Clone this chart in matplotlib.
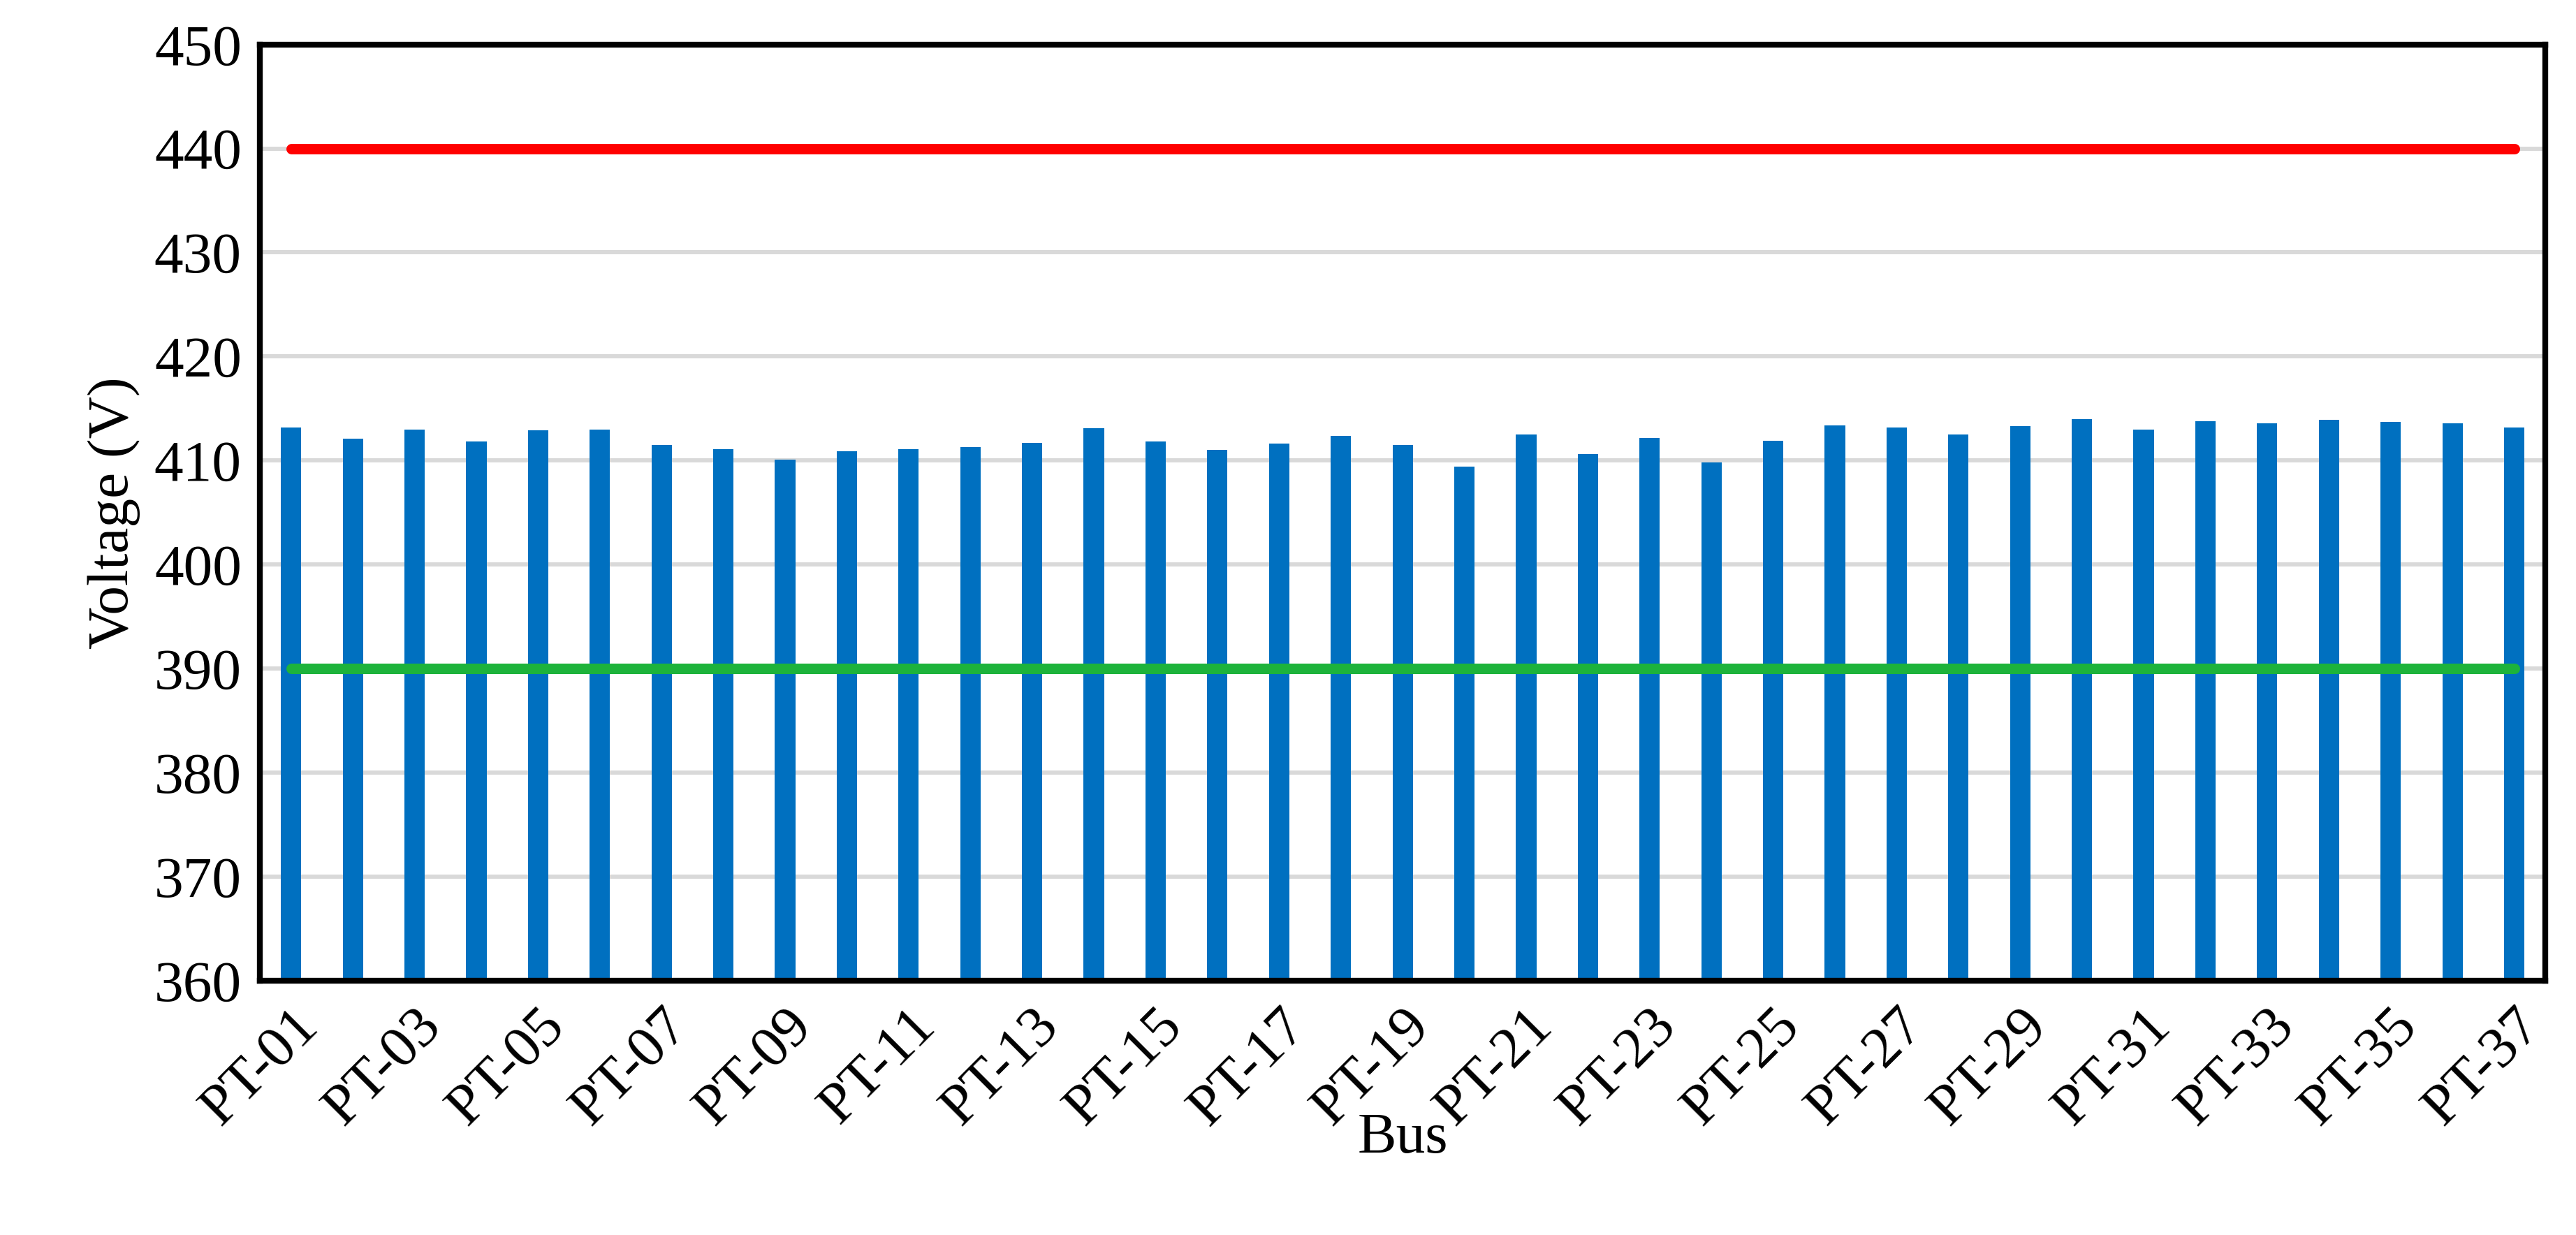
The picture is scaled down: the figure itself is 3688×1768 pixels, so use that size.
import numpy as np
import matplotlib.pyplot as plt

plt.rcParams['font.family'] = ['Liberation Serif', 'DejaVu Serif']

# ========== 数据 ==========
buses = [f'PT-{i:02d}' for i in range(1, 38)]
voltage = [413.2, 412.1, 413.0, 411.8, 412.9, 413.0, 411.5, 411.1, 410.1, 410.9,
           411.1, 411.3, 411.7, 413.1, 411.8, 411.0, 411.6, 412.4, 411.5, 409.4,
           412.5, 410.6, 412.2, 409.8, 411.9, 413.4, 413.2, 412.5, 413.3, 414.0,
           413.0, 413.8, 413.6, 413.9, 413.7, 413.6, 413.2]
upper_limit = 440
lower_limit = 390

fig = plt.figure(figsize=(15.3667, 7.3667), dpi=240)
ax = fig.add_axes([0.101, 0.206, 0.887, 0.758])

x = np.arange(len(buses))
ax.bar(x, voltage, width=0.33, color='#0070C0', zorder=2)
ax.plot(x, [upper_limit] * len(x), color='#FF0000', lw=4.5, solid_capstyle='round', zorder=3)
ax.plot(x, [lower_limit] * len(x), color='#1DB33B', lw=4.5, solid_capstyle='round', zorder=3)

ax.set_ylim(360, 450)
ax.set_yticks(np.arange(360, 451, 10))
ax.set_xlim(-0.5, len(buses) - 0.5)
ax.set_xticks(x[::2])
ax.set_xticklabels(buses[::2], rotation=45, ha='right', rotation_mode='anchor')
ax.tick_params(axis='both', labelsize=25, length=0, pad=8)
ax.yaxis.grid(True, color='#D9D9D9', lw=1.8, zorder=0)
ax.set_axisbelow(True)
for s in ax.spines.values():
    s.set_linewidth(2.5)
ax.set_xlabel('Bus', fontsize=25, labelpad=-10)
ax.set_ylabel('Voltage (V)', fontsize=25, labelpad=6)

fig.savefig('out.png', dpi=240)
